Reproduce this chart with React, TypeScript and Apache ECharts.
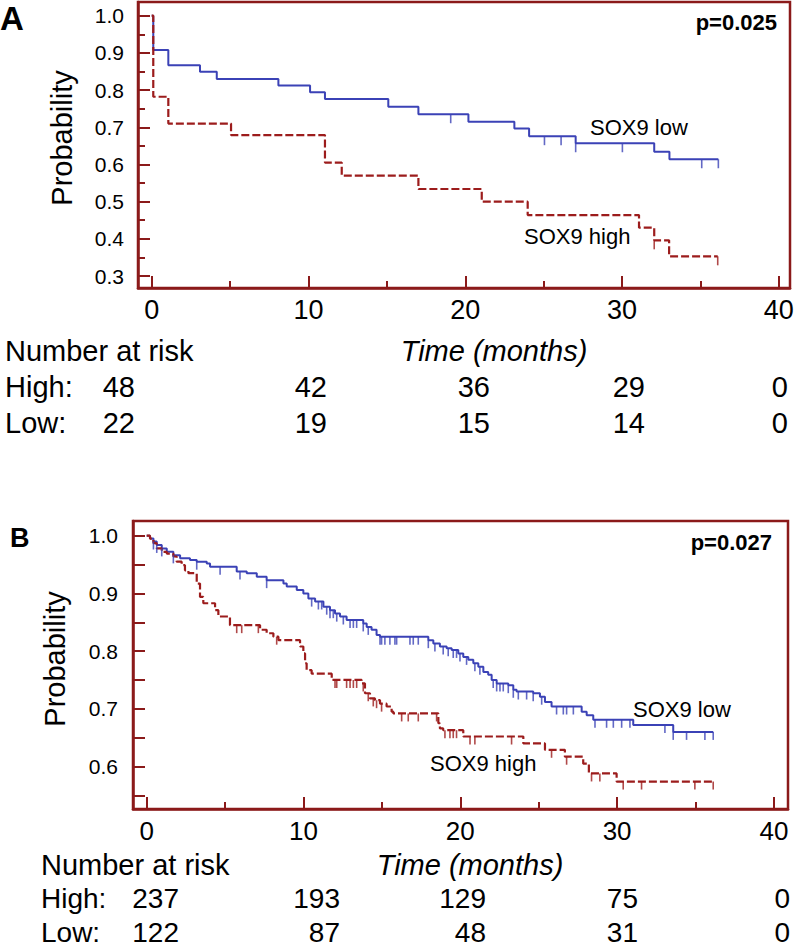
import React, { useEffect, useRef } from 'react';
import * as echarts from 'echarts';

// ---------- Panel A data ----------
const timesLowA = [0, 0.1, 1.06, 3.08, 4.15, 8.08, 10.1, 11.05, 15.09, 17.01, 20.2, 23.13, 24.07, 27.04, 32.05, 33.02, 36.14];
const survLowA = [1.0, 0.908, 0.867, 0.849, 0.83, 0.812, 0.794, 0.776, 0.755, 0.735, 0.715, 0.697, 0.676, 0.657, 0.634, 0.614, 0.614];
const censorLowA = [19.07, 25.05, 26.11, 27.04, 30.02, 35.08, 36.14];

const timesHighA = [0, 0.1, 1.06, 5.06, 11.05, 12.12, 17.01, 21.05, 23.98, 31.08, 32.05, 33.0, 36.1];
const survHighA = [1.0, 0.782, 0.71, 0.679, 0.605, 0.57, 0.534, 0.5, 0.464, 0.43, 0.396, 0.353, 0.353];
const censorHighA = [32.05, 36.1];

// ---------- Panel B data ----------
const timesLowB = [0, 0.21, 0.43, 0.64, 0.96, 1.28, 1.7, 2.13, 2.76, 3.19, 3.83, 4.04, 5.74, 6.38, 7.02, 7.65, 8.72, 8.93, 9.57, 9.99, 10.31, 10.74, 11.27, 11.69, 12.01, 12.33, 12.75, 13.81, 14.03, 14.34, 14.66, 14.88, 17.96, 18.28, 18.7, 19.13, 19.45, 19.87, 20.19, 20.51, 20.83, 21.15, 21.47, 21.78, 22.0, 22.32, 23.06, 23.38, 23.59, 24.65, 25.08, 25.4, 25.82, 27.74, 28.06, 28.48, 31.03, 33.58, 36.13];
const survLowB = [1.0, 0.995, 0.99, 0.984, 0.978, 0.972, 0.966, 0.961, 0.958, 0.955, 0.952, 0.946, 0.938, 0.935, 0.929, 0.923, 0.917, 0.912, 0.906, 0.9, 0.891, 0.886, 0.877, 0.871, 0.865, 0.86, 0.854, 0.848, 0.842, 0.837, 0.828, 0.825, 0.819, 0.813, 0.808, 0.805, 0.802, 0.796, 0.79, 0.785, 0.779, 0.773, 0.764, 0.759, 0.75, 0.744, 0.741, 0.733, 0.73, 0.727, 0.721, 0.712, 0.704, 0.695, 0.689, 0.681, 0.672, 0.66, 0.66];
const censorLowB = [0.43, 0.64, 0.96, 1.7, 3.19, 4.68, 5.95, 7.65, 10.52, 10.95, 11.16, 11.48, 11.69, 11.9, 12.12, 12.54, 12.97, 13.18, 13.39, 13.81, 14.13, 14.88, 14.98, 15.19, 15.51, 15.83, 15.94, 16.79, 17.0, 17.32, 17.96, 18.38, 18.91, 19.23, 19.55, 19.76, 19.98, 20.4, 20.93, 21.25, 22.1, 22.32, 22.53, 22.74, 23.06, 23.38, 23.7, 24.23, 24.65, 25.19, 26.14, 26.57, 26.78, 27.21, 28.59, 29.33, 29.76, 30.29, 30.82, 33.05, 33.58, 34.43, 35.6, 36.13];

const timesHighB = [0, 0.21, 0.43, 0.64, 0.96, 1.28, 1.7, 1.91, 2.23, 2.44, 2.66, 3.19, 3.4, 3.61, 4.36, 4.57, 5.31, 7.23, 7.65, 8.08, 8.4, 9.78, 9.99, 10.1, 10.2, 10.52, 11.8, 13.71, 13.92, 14.24, 14.56, 14.88, 15.3, 15.62, 15.73, 18.6, 18.7, 18.91, 20.19, 24.02, 25.4, 26.67, 27.84, 28.2, 29.97, 36.13];
const survHighB = [1.0, 0.995, 0.987, 0.978, 0.972, 0.969, 0.964, 0.955, 0.949, 0.94, 0.935, 0.917, 0.894, 0.883, 0.871, 0.86, 0.845, 0.837, 0.831, 0.825, 0.819, 0.808, 0.796, 0.779, 0.767, 0.761, 0.75, 0.744, 0.727, 0.718, 0.715, 0.709, 0.704, 0.695, 0.692, 0.675, 0.666, 0.663, 0.652, 0.64, 0.629, 0.617, 0.605, 0.588, 0.574, 0.574];
const censorHighB = [5.74, 6.06, 7.12, 8.29, 12.01, 12.12, 12.75, 12.97, 13.18, 13.39, 13.81, 14.13, 14.45, 14.66, 14.98, 16.26, 16.68, 17.32, 18.49, 19.02, 19.34, 19.55, 19.76, 20.62, 20.93, 23.27, 25.82, 26.78, 28.37, 28.9, 30.39, 31.56, 34.96, 36.13];

// ---------- Number at risk ----------
const riskTimes = [0, 10, 20, 30, 40];
const riskHighA = [48, 42, 36, 29, 0];
const riskLowA = [22, 19, 15, 14, 0];
const riskHighB = [237, 193, 129, 75, 0];
const riskLowB = [122, 87, 48, 31, 0];

// ---------- Ticks ----------
const xTicksMajor = [0, 10, 20, 30, 40];
const xTicksMinor = [5, 15, 25, 35];
const yTicksMajorA = [0.3, 0.4, 0.5, 0.6, 0.7, 0.8, 0.9, 1.0];
const yTicksMinorA = [0.35, 0.45, 0.55, 0.65, 0.75, 0.85, 0.95];
const yTicksB = [0.55, 0.6, 0.65, 0.7, 0.75, 0.8, 0.85, 0.9, 0.95, 1.0];
const yLabelsB = [0.6, 0.7, 0.8, 0.9, 1.0];

const FRAME = '#8b1a1a';
const BLUE = '#3b42b6';
const RED = '#9c1c1c';
const FONT = '"Liberation Sans", Arial, Helvetica, sans-serif';

const stepValue = (t: number, times: number[], surv: number[]) => {
  let v = surv[0];
  for (let i = 0; i < times.length; i++) if (times[i] <= t + 1e-9) v = surv[i];
  return v;
};
const kmPoints = (times: number[], surv: number[]) => times.map((t, i) => [t, surv[i]]);
const censorPoints = (ct: number[], times: number[], surv: number[]) => ct.map((t) => [t, stepValue(t, times, surv)]);

export default function App() {
  const ref = useRef<HTMLDivElement>(null);
  useEffect(() => {
    if (!ref.current) return;
    const chart = echarts.init(ref.current, null, { renderer: 'svg' });

    const grids = [
      { left: 138, top: 2, width: 652, height: 286 },
      { left: 133, top: 521, width: 655, height: 288 },
    ];
    const xRange = [
      { min: -0.874, max: 40.71 },
      { min: -0.874, max: 40.9 },
    ];
    const yRange = [
      { min: 0.2678, max: 1.0368 },
      { min: 0.5264, max: 1.0255 },
    ];

    const xAxes: any[] = [];
    const yAxes: any[] = [];
    [0, 1].forEach((g) => {
      xAxes.push({
        type: 'value', gridIndex: g, position: 'bottom', ...xRange[g],
        axisLine: { show: true, onZero: false, lineStyle: { color: FRAME, width: 2.5 } },
        axisTick: { show: true, inside: true, length: 12, customValues: xTicksMajor, lineStyle: { color: FRAME, width: 2 } },
        axisLabel: { show: true, customValues: riskTimes, margin: g === 0 ? 8 : 9, color: '#000', fontSize: g === 0 ? 27 : 26, fontFamily: FONT },
        splitLine: { show: false },
      });
      xAxes.push({
        type: 'value', gridIndex: g, position: 'bottom', ...xRange[g],
        axisLine: { show: false, onZero: false },
        axisTick: { show: true, inside: true, length: 7, customValues: xTicksMinor, lineStyle: { color: FRAME, width: 2 } },
        axisLabel: { show: false },
        splitLine: { show: false },
      });
    });
    yAxes.push({
      type: 'value', gridIndex: 0, position: 'left', ...yRange[0],
      axisLine: { show: true, onZero: false, lineStyle: { color: FRAME, width: 2.5 } },
      axisTick: { show: true, inside: true, length: 12, customValues: yTicksMajorA, lineStyle: { color: FRAME, width: 2 } },
      axisLabel: { show: true, customValues: yTicksMajorA, margin: 14, color: '#000', fontSize: 21, fontFamily: FONT, formatter: (v: number) => v.toFixed(1) },
      splitLine: { show: false },
    });
    yAxes.push({
      type: 'value', gridIndex: 0, position: 'left', ...yRange[0],
      axisLine: { show: false, onZero: false },
      axisTick: { show: true, inside: true, length: 7, customValues: yTicksMinorA, lineStyle: { color: FRAME, width: 2 } },
      axisLabel: { show: false },
      splitLine: { show: false },
    });
    yAxes.push({
      type: 'value', gridIndex: 1, position: 'left', ...yRange[1],
      axisLine: { show: true, onZero: false, lineStyle: { color: FRAME, width: 2.5 } },
      axisTick: { show: true, inside: true, length: 12, customValues: yTicksB, lineStyle: { color: FRAME, width: 2 } },
      axisLabel: { show: true, customValues: yLabelsB, margin: 15, color: '#000', fontSize: 21, fontFamily: FONT, formatter: (v: number) => v.toFixed(1) },
      splitLine: { show: false },
    });

    const km = (name: string, times: number[], surv: number[], color: string, dashed: boolean, xi: number, yi: number) => ({
      name, type: 'line', step: 'end', xAxisIndex: xi, yAxisIndex: yi, symbol: 'none',
      data: kmPoints(times, surv),
      lineStyle: { color, width: dashed ? 2.2 : 2, type: dashed ? [8, 3] : 'solid' },
      z: 3,
    });
    const cens = (name: string, ct: number[], times: number[], surv: number[], color: string, xi: number, yi: number, len: number) => ({
      name, type: 'scatter', xAxisIndex: xi, yAxisIndex: yi,
      symbol: 'rect', symbolSize: [1.6, len], symbolOffset: [0, len / 2],
      itemStyle: { color },
      data: censorPoints(ct, times, surv),
      z: 4,
    });

    const series = [
      km('SOX9 low (A)', timesLowA, survLowA, BLUE, false, 0, 0),
      km('SOX9 high (A)', timesHighA, survHighA, RED, true, 0, 0),
      cens('SOX9 low censored (A)', censorLowA, timesLowA, survLowA, BLUE, 0, 0, 9),
      cens('SOX9 high censored (A)', censorHighA, timesHighA, survHighA, RED, 0, 0, 9),
      km('SOX9 low (B)', timesLowB, survLowB, BLUE, false, 2, 2),
      km('SOX9 high (B)', timesHighB, survHighB, RED, true, 2, 2),
      cens('SOX9 low censored (B)', censorLowB, timesLowB, survLowB, BLUE, 2, 2, 8),
      cens('SOX9 high censored (B)', censorHighB, timesHighB, survHighB, RED, 2, 2, 8),
    ];

    const txt = (text: string, x: number, y: number, o: any = {}) => ({
      type: 'text', x, y, rotation: o.rotation || 0, z: 10,
      style: {
        text, fill: '#000', fontFamily: FONT, fontSize: o.size || 29,
        fontWeight: o.weight || 'normal', fontStyle: o.style || 'normal',
        align: o.align || 'left', verticalAlign: 'middle',
      },
    });

    const riskRightA = [135, 327, 490, 645, 788];
    const riskRightB = [179, 340, 486, 638, 790];

    const graphic: any[] = [
      // Panel A
      txt('A', 0, 18, { size: 33, weight: 'bold' }),
      txt('p=0.025', 777, 22, { size: 22, weight: 'bold', align: 'right' }),
      txt('SOX9 low', 590, 127, { size: 22 }),
      txt('SOX9 high', 524, 236, { size: 22 }),
      txt('Probability', 62, 138, { size: 29, align: 'center', rotation: Math.PI / 2 }),
      txt('Number at risk', 5, 351),
      txt('Time (months)', 494, 351, { align: 'center', style: 'italic' }),
      txt('High:', 5, 387),
      txt('Low:', 5, 423),
      ...riskHighA.map((v, i) => txt(String(v), riskRightA[i], 387, { align: 'right' })),
      ...riskLowA.map((v, i) => txt(String(v), riskRightA[i], 423, { align: 'right' })),
      // Panel B
      txt('B', 10, 538, { size: 27, weight: 'bold' }),
      txt('p=0.027', 772, 542, { size: 22, weight: 'bold', align: 'right' }),
      txt('SOX9 low', 633, 709, { size: 22 }),
      txt('SOX9 high', 430, 763, { size: 22 }),
      txt('Probability', 55, 659, { size: 29, align: 'center', rotation: Math.PI / 2 }),
      txt('Number at risk', 41, 865),
      txt('Time (months)', 470, 865, { align: 'center', style: 'italic' }),
      txt('High:', 41, 898, { size: 28 }),
      txt('Low:', 41, 932, { size: 28 }),
      ...riskHighB.map((v, i) => txt(String(v), riskRightB[i], 898, { align: 'right', size: 28 })),
      ...riskLowB.map((v, i) => txt(String(v), riskRightB[i], 932, { align: 'right', size: 28 })),
    ];

    chart.setOption({
      animation: false,
      backgroundColor: '#fff',
      grid: grids.map((g) => ({ ...g, show: true, borderColor: FRAME, borderWidth: 2.5, backgroundColor: 'transparent', containLabel: false })),
      xAxis: xAxes,
      yAxis: yAxes,
      series,
      graphic,
    });
    return () => chart.dispose();
  }, []);
  return <div ref={ref} style={{ position: 'absolute', left: 0, top: 0, width: 800, height: 950, background: '#fff' }} />;
}
